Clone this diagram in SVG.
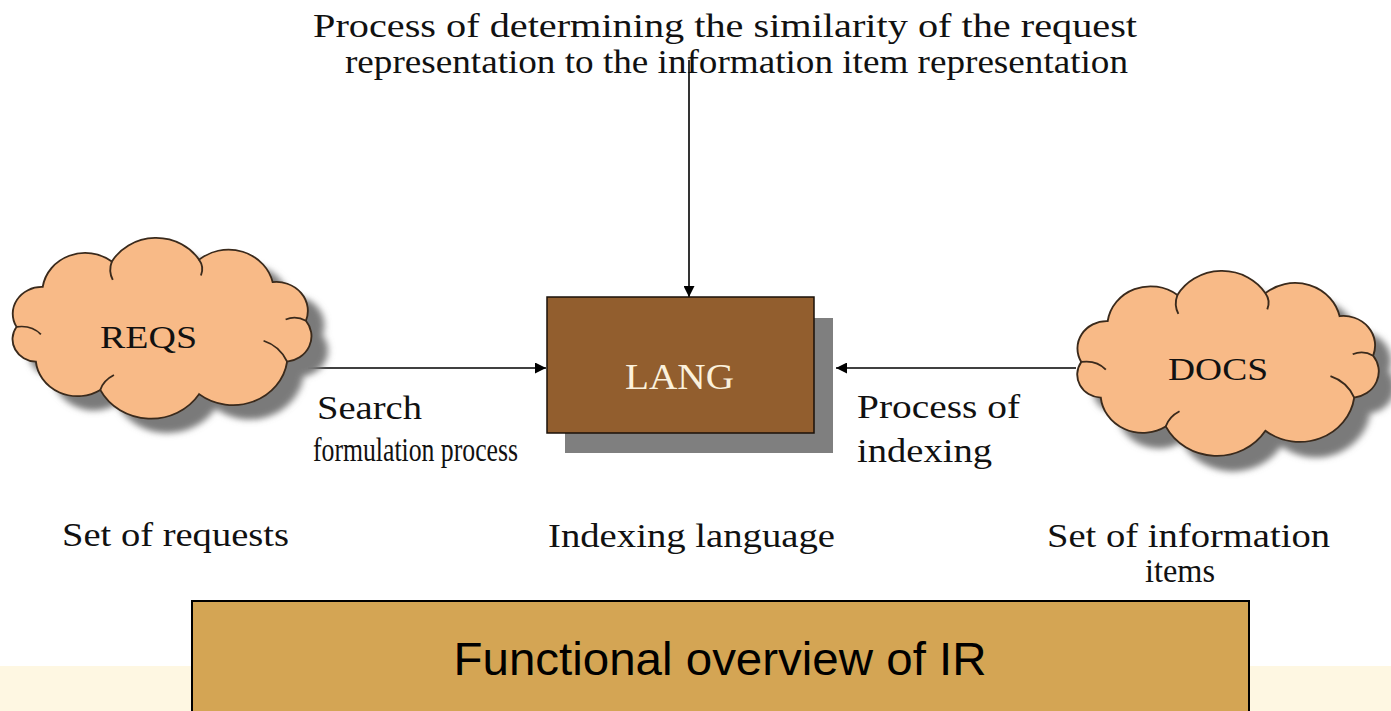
<svg xmlns="http://www.w3.org/2000/svg" width="1391" height="711" viewBox="0 0 1391 711">
<defs>
<style>
.t{font-family:"Liberation Serif","Times New Roman",serif;fill:#111;}
.cloud{fill:#F8BA87;stroke:#3a2a1c;stroke-width:1.6;}
.cshadow{fill:#7a7a7a;}
.inner{fill:none;stroke:#3a2a1c;stroke-width:1.6;}
.conn{stroke:#000;stroke-width:1.6;fill:none;}
</style>
<filter id="blur" x="-10%" y="-10%" width="120%" height="120%"><feGaussianBlur stdDeviation="3"/></filter>
<marker id="ah" viewBox="0 0 10 10" refX="10" refY="5" markerWidth="11" markerHeight="11" markerUnits="userSpaceOnUse" orient="auto">
<path d="M0,0 L10,5 L0,10 z" fill="#000"/>
</marker>
<path id="cloudShape" d="M 25 90 A 25 25 0 0 1 47.6 52.7 A 37 37 0 0 1 107.2 28.9 A 44 44 0 0 1 182.4 27.2 A 39 39 0 0 1 245.8 48.2 A 27 27 0 0 1 274.5 84.3 A 24 24 0 0 1 258.3 122.5 A 47 47 0 0 1 182.4 152.8 A 49 49 0 0 1 97.2 148.9 A 36 36 0 0 1 41.7 122.5 A 21 21 0 0 1 25 90 Z"/>
<g id="cloudInner">
<path d="M25 90 Q 38 88 46 97"/>
<path d="M107.2 28.9 Q 104 38 108 46"/>
<path d="M182.4 27.2 Q 187 34 184 42"/>
<path d="M274.5 84.3 Q 266 79 257 83"/>
<path d="M258.3 122.5 Q 252 108 238 103"/>
<path d="M97.2 148.9 Q 100 140 109 135"/>
</g>
</defs>
<rect x="0" y="0" width="1391" height="711" fill="#ffffff"/>
<rect x="0" y="666" width="1391" height="45" fill="#FEF7E2"/>

<g id="connectors">
<line class="conn" x1="689" y1="60" x2="689" y2="297" marker-end="url(#ah)"/>
<line class="conn" x1="308" y1="368" x2="546" y2="368" marker-end="url(#ah)"/>
<line class="conn" x1="1076" y1="368" x2="836" y2="368" marker-end="url(#ah)"/>
</g>

<g id="title-top">
<text class="t" x="313" y="37" font-size="34" textLength="824" lengthAdjust="spacingAndGlyphs">Process of determining the similarity of the request</text>
<text class="t" x="345" y="73" font-size="34" textLength="783" lengthAdjust="spacingAndGlyphs">representation to the information item representation</text>
</g>

<g id="reqs">
<g transform="translate(4,245) scale(1.16,1.07)" filter="url(#blur)">
<use href="#cloudShape" class="cshadow"/>
</g>
<g transform="translate(-12.5,230.6) scale(1.16,1.07)">
<use href="#cloudShape" class="cloud"/>
<use href="#cloudInner" class="inner"/>
</g>
<text class="t" x="100" y="348" font-size="31" textLength="97" lengthAdjust="spacingAndGlyphs">REQS</text>
</g>

<g id="lang">
<rect x="565" y="318" width="268" height="135" fill="#7f7f7f"/>
<rect x="547" y="297" width="267" height="136" fill="#925E2E" stroke="#1a1008" stroke-width="1.5"/>
<text x="625" y="389" font-size="35" font-family="Liberation Serif, serif" fill="#FBF1DC" textLength="109" lengthAdjust="spacingAndGlyphs">LANG</text>
</g>

<g id="docs">
<g transform="translate(1068,279) scale(1.17,1.095)" filter="url(#blur)">
<use href="#cloudShape" class="cshadow"/>
</g>
<g transform="translate(1052,263.4) scale(1.17,1.095)">
<use href="#cloudShape" class="cloud"/>
<use href="#cloudInner" class="inner"/>
</g>
<text class="t" x="1168" y="380" font-size="31" textLength="100" lengthAdjust="spacingAndGlyphs">DOCS</text>
</g>

<g id="labels">
<text class="t" x="317" y="419" font-size="34" textLength="105" lengthAdjust="spacingAndGlyphs">Search</text>
<text class="t" x="313" y="461" font-size="34" textLength="205" lengthAdjust="spacingAndGlyphs">formulation process</text>
<text class="t" x="857" y="418" font-size="34" textLength="163" lengthAdjust="spacingAndGlyphs">Process of</text>
<text class="t" x="857" y="462" font-size="34" textLength="135" lengthAdjust="spacingAndGlyphs">indexing</text>
<text class="t" x="62" y="546" font-size="34" textLength="227" lengthAdjust="spacingAndGlyphs">Set of requests</text>
<text class="t" x="548" y="547" font-size="34" textLength="287" lengthAdjust="spacingAndGlyphs">Indexing language</text>
<text class="t" x="1047" y="547" font-size="34" textLength="283" lengthAdjust="spacingAndGlyphs">Set of information</text>
<text class="t" x="1145" y="582" font-size="34" textLength="70" lengthAdjust="spacingAndGlyphs">items</text>
</g>

<g id="caption">
<rect x="192" y="601" width="1057" height="115" fill="#D4A554" stroke="#000" stroke-width="2"/>
<text x="720" y="675" font-size="46" font-family="Liberation Sans, Arial, sans-serif" text-anchor="middle" fill="#000" textLength="533" lengthAdjust="spacingAndGlyphs">Functional overview of IR</text>
</g>
</svg>
